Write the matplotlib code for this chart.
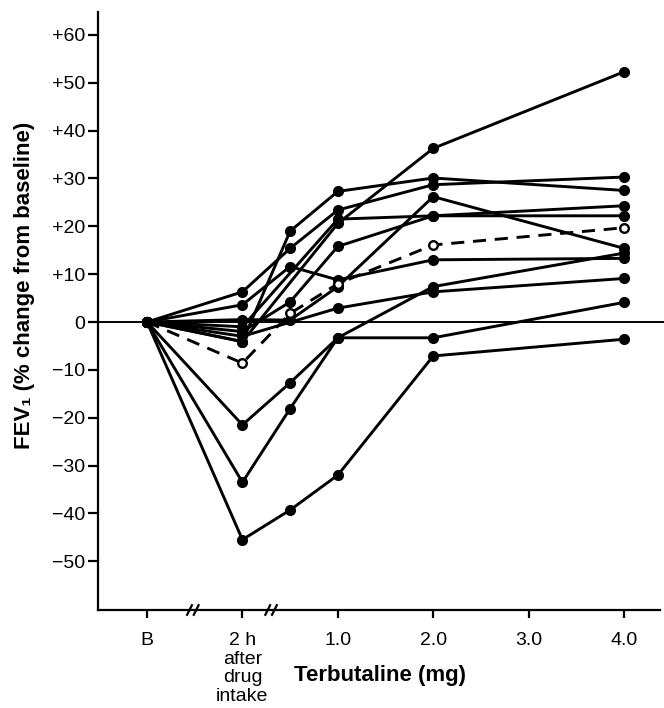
import matplotlib
matplotlib.use('Agg')
import matplotlib.pyplot as plt

plt.rcParams['font.family'] = ['Liberation Sans', 'DejaVu Sans']

# x positions: B (baseline), 2 h after drug intake, then terbutaline dose (mg)
x_points = [-1, 0, 0.5, 1.0, 2.0, 4.0]

# FEV1 % change from baseline, one row per patient (None = no reading)
subjects = [
    [0, 6.3, 15.4, 23.4, 28.7, 30.3],
    [0, -4.1, 19.0, 27.3, 30.1, 27.5],
    [0, 3.6, 11.6, 8.8, 13.0, 13.3],
    [0, -2.0, 4.2, 15.8, 22.2, 24.3],
    [0, -1.0, None, 21.5, 22.2, 22.2],
    [0, -4.1, None, 20.6, 36.3, 52.3],
    [0, 0.5, 0.4, 7.4, 26.2, 15.4],
    [0, -3.0, None, 2.9, 6.3, 9.1],
    [0, -21.5, -12.7, -3.3, -3.3, 4.1],
    [0, -33.5, -18.1, -3.3, 7.4, 14.4],
    [0, -45.5, -39.3, -32.0, -7.1, -3.6],
]
mean_change = [0, -8.6, 1.8, 8.0, 16.1, 19.7]

tick_pos = [-1, 0, 1, 2, 3, 4]
tick_labels = ['B', '2 h\nafter\ndrug\nintake', '1.0', '2.0', '3.0', '4.0']
y_ticks = list(range(-50, 61, 10))
y_labels = ['+%d' % v if v > 0 else ('0' if v == 0 else '\u2212%d' % -v) for v in y_ticks]

fig = plt.figure(figsize=(6.64, 7.08), dpi=100)
ax = fig.add_axes([98 / 664, 98 / 708, 562 / 664, 598 / 708])

ax.axhline(0, color='black', lw=1.4, zorder=1, xmax=1.02, clip_on=False)

for row in subjects:
    xs = [x for x, v in zip(x_points, row) if v is not None]
    ys = [v for v in row if v is not None]
    ax.plot(xs, ys, color='black', lw=2.1, marker='o', ms=7,
            solid_capstyle='round', zorder=3)

# mean line (open circles, no marker at baseline)
ax.plot(x_points, mean_change, color='black', lw=2.1, dashes=(4.5, 3),
        marker='o', ms=6.2, mfc='white', mec='black', mew=1.7,
        markevery=list(range(1, len(x_points))), zorder=4)

ax.set_xlim(-1.514, 4.377)
ax.set_ylim(-60.2, 64.8)

ax.spines['top'].set_visible(False)
ax.spines['right'].set_visible(False)
ax.spines['left'].set_linewidth(1.6)
ax.spines['bottom'].set_linewidth(1.6)

ax.set_xticks(tick_pos)
ax.set_xticklabels(tick_labels, fontsize=14, linespacing=1.12)
ax.set_yticks(y_ticks)
ax.set_yticklabels(y_labels, fontsize=14)
ax.tick_params(axis='x', direction='out', length=6, width=1.6, pad=10)
ax.tick_params(axis='y', direction='out', length=7.5, width=1.6, pad=1.5)

# axis break marks
tr = ax.get_xaxis_transform()
for xb in (-0.52, 0.30):
    for off in (-0.035, 0.035):
        ax.plot([xb + off - 0.025, xb + off + 0.025], [-0.008, 0.008],
                color='black', lw=1.6, transform=tr, clip_on=False)

fig.text(25 / 664, 1 - 285 / 708, 'FEV\u2081 (% change from baseline)',
         rotation=90, ha='center', va='center', fontsize=16, fontweight='bold')
fig.text(380 / 664, 1 - 675 / 708, 'Terbutaline (mg)',
         ha='center', va='center', fontsize=16, fontweight='bold')

fig.savefig('out.png', dpi=100)
